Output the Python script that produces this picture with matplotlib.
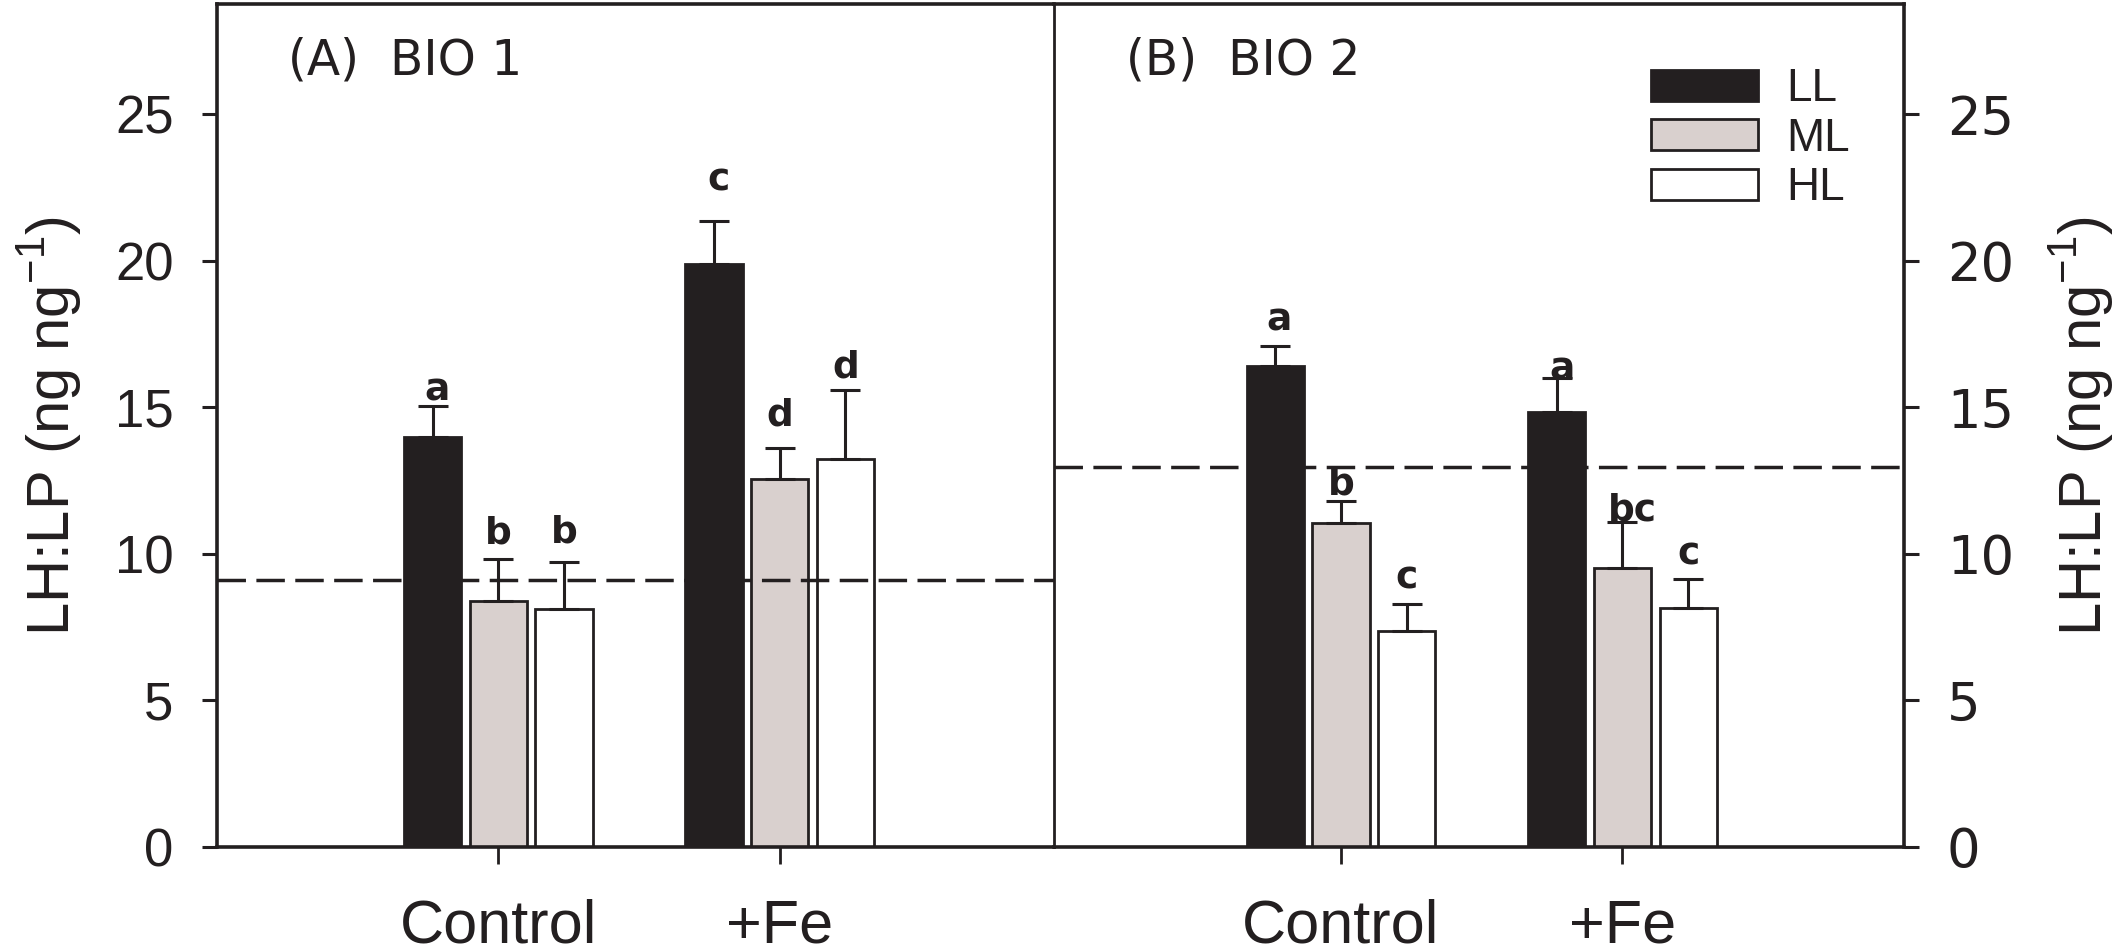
import matplotlib.pyplot as plt
from matplotlib.patches import Patch
import numpy as np

# data
groups = ['Control', '+Fe']
light = ['LL', 'ML', 'HL']

bio1_mean = {'LL': [13.99, 19.87], 'ML': [8.38, 12.54], 'HL': [8.10, 13.22]}
bio1_err = {'LL': [1.04, 1.49], 'ML': [1.45, 1.08], 'HL': [1.61, 2.36]}
bio1_letters = {'LL': ['a', 'c'], 'ML': ['b', 'd'], 'HL': ['b', 'd']}
bio1_ref = 9.10

bio2_mean = {'LL': [16.42, 14.85], 'ML': [11.06, 9.52], 'HL': [7.35, 8.15]}
bio2_err = {'LL': [0.66, 1.14], 'ML': [0.74, 1.57], 'HL': [0.94, 0.97]}
bio2_letters = {'LL': ['a', 'a'], 'ML': ['b', 'bc'], 'HL': ['c', 'c']}
bio2_ref = 12.97

# letter placement above the error caps (points), tweaked per panel
bio1_letter_dy = {'LL': [4, 22], 'ML': [11, 16], 'HL': [14, 9]}
bio1_letter_dx = {'LL': [3, 3], 'ML': [0, 0], 'HL': [0, 0]}
bio2_letter_dy = {'LL': [11, -1], 'ML': [5, 1], 'HL': [11, 11]}
bio2_letter_dx = {'LL': [3, 4], 'ML': [0, 7], 'HL': [0, 0]}

colors = {'LL': '#231f20', 'ML': '#d9d0ce', 'HL': '#ffffff'}
ink = '#231f20'

fig = plt.figure(figsize=(21.19, 9.52), dpi=100)
axA = fig.add_axes([0.1023, 0.1106, 0.3951, 0.8849])
axB = fig.add_axes([0.4974, 0.1106, 0.4011, 0.8849])

x = np.arange(1, len(groups) + 1)
width = 0.2035
step = 0.2334


def draw_panel(ax, means, errs, letters, ldy, ldx, ref, title):
    for i, lv in enumerate(light):
        xs = x + (i - 1) * step
        ax.bar(xs, means[lv], width, color=colors[lv], edgecolor=ink,
               linewidth=2.0, zorder=2)
        ax.errorbar(xs, means[lv], yerr=[np.zeros(len(xs)), errs[lv]],
                    fmt='none', ecolor=ink, elinewidth=2.2, capsize=10.5,
                    capthick=2.2, zorder=3)
        for j in range(len(xs)):
            top = means[lv][j] + errs[lv][j]
            ax.annotate(letters[lv][j], (xs[j], top),
                        xytext=(ldx[lv][j], ldy[lv][j]),
                        textcoords='offset points', ha='center',
                        va='baseline', fontsize=27, fontweight='bold',
                        family='DejaVu Sans', color=ink)
    ax.axhline(ref, color=ink, linewidth=2.5, dashes=(8.2, 3.0), zorder=4)
    ax.text(0.085, 0.917, title, transform=ax.transAxes, fontsize=35,
            family='DejaVu Sans', color=ink, va='baseline', ha='left')
    ax.set_ylim(0, 28.75)
    ax.set_yticks([0, 5, 10, 15, 20, 25])
    ax.set_xticks(x)
    ax.set_xticklabels(groups)
    ax.tick_params(axis='x', direction='out', length=12, width=2.0,
                   pad=25, labelsize=44, colors=ink)
    ax.tick_params(axis='y', direction='out', length=11, width=2.2,
                   pad=20, labelsize=38, colors=ink)
    for lab in ax.get_xticklabels() + ax.get_yticklabels():
        lab.set_family('Liberation Sans')
    for sp in ax.spines.values():
        sp.set_color(ink)
        sp.set_linewidth(2.6)


draw_panel(axA, bio1_mean, bio1_err, bio1_letters, bio1_letter_dy,
           bio1_letter_dx, bio1_ref, '(A)  BIO 1')
draw_panel(axB, bio2_mean, bio2_err, bio2_letters, bio2_letter_dy,
           bio2_letter_dx, bio2_ref, '(B)  BIO 2')

axA.set_xlim(0.0, 2.975)
axB.set_xlim(-0.02, 3.0)

# the shared divider is panel B's left spine
axA.spines['right'].set_visible(False)
axB.spines['left'].set_linewidth(2.0)
axB.yaxis.tick_right()
axB.yaxis.set_label_position('right')

ylab = 'LH:LP (ng ng$^{\\mathregular{-1}}$)'
axA.set_ylabel(ylab, fontsize=43, family='Liberation Sans', color=ink,
               labelpad=22)
axB.set_ylabel(ylab, fontsize=43, family='Liberation Sans', color=ink,
               labelpad=24, rotation=90)

handles = [Patch(facecolor=colors[lv], edgecolor=ink, linewidth=2.0)
           for lv in light]
leg = axB.legend(handles, light, loc='upper left',
                 bbox_to_anchor=(0.702, 0.925), frameon=False,
                 handlelength=2.35, handleheight=0.66, handletextpad=0.6,
                 labelspacing=0.12, borderpad=0, borderaxespad=0,
                 prop={'family': 'Liberation Sans', 'size': 33})
for t in leg.get_texts():
    t.set_color(ink)

fig.savefig('out.png', dpi=100)
